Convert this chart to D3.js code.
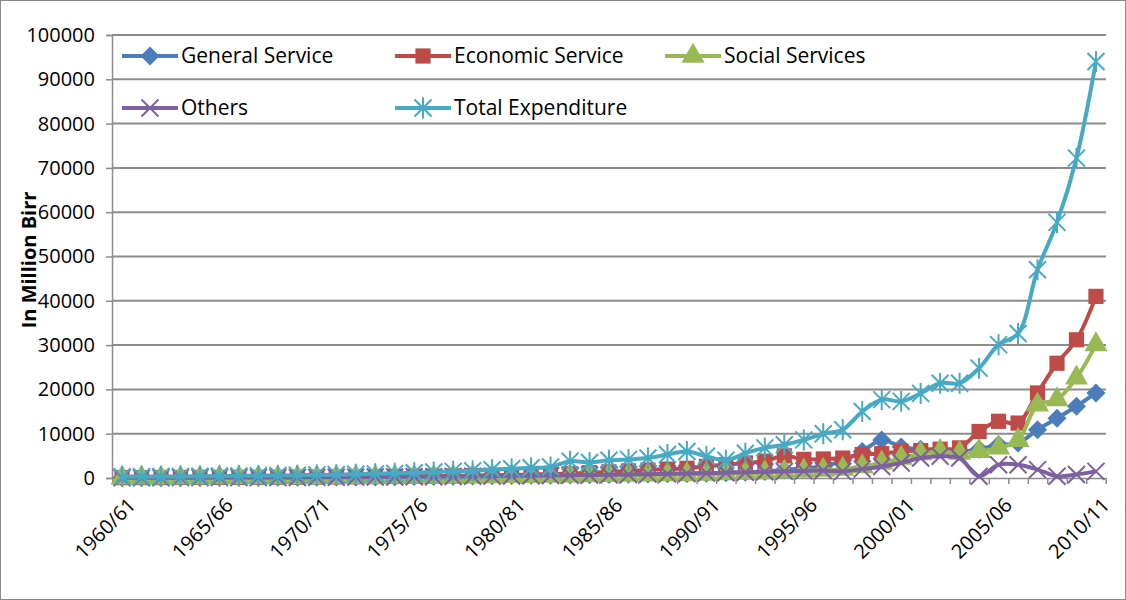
<!DOCTYPE html>
<html><head><meta charset="utf-8">
<script src="https://cdn.jsdelivr.net/npm/d3@7"></script>
<style>body{margin:0;background:#fff}text{font-family:"Open Sans","DejaVu Sans",sans-serif}</style>
</head><body><svg id="c" width="1126" height="600"></svg>
<script>
const years = d3.range(1960, 2011).map(y => y + "/" + String((y + 1) % 100).padStart(2, "0"));
const tickYears = years.filter((d, i) => i % 5 === 0);
const yTicks = d3.range(0, 100001, 10000);

const general = [100,110,120,130,140,150,160,170,180,190,200,210,230,250,280,320,360,400,450,500,550,600,650,700,750,800,850,900,950,1000,1100,1200,1300,1500,1800,2200,2600,4000,6000,8600,7000,6500,6500,6000,6500,7500,7900,10900,13500,16200,19200];
const economic = [80,90,100,110,120,130,140,150,170,190,210,230,260,300,340,380,420,480,540,600,700,800,900,1000,1200,1400,1600,1800,2000,2200,2600,3000,3400,3800,5000,4200,4300,4500,5300,5500,6000,6200,6500,6800,10500,12800,12400,19200,25900,31200,41000];
const social = [40,45,50,55,60,70,80,90,100,110,120,130,150,170,190,210,230,260,290,320,360,400,450,500,550,600,650,700,750,800,900,1000,1100,1200,1400,1600,1800,2000,2600,3400,4500,5500,6000,5600,6000,6800,8500,16500,17700,22600,30100];
const others = [60,65,70,75,80,90,100,110,120,130,150,170,190,210,240,270,300,340,380,420,470,520,570,620,680,740,800,870,940,1000,1100,1200,1300,1400,1500,1600,1700,1500,2000,2600,3400,4500,4900,4500,400,3000,3000,1900,400,800,1500];
const total = [300,320,340,360,400,440,480,520,580,640,700,760,840,940,1050,1200,1350,1500,1650,1850,2100,2300,2500,3800,3500,4000,4200,4500,5300,6000,4900,4000,5600,6800,7500,8600,10000,10900,15000,17700,17300,19100,21400,21400,24800,30100,32600,47000,57700,72200,94000];

const series = [
  {name: "General Service", values: general, color: "#4a7ebb", sym: d3.symbolDiamond2},
  {name: "Economic Service", values: economic, color: "#be4b48", sym: d3.symbolSquare},
  {name: "Social Services", values: social, color: "#98b954", sym: d3.symbolTriangle},
  {name: "Others", values: others, color: "#7d60a0", sym: "x"},
  {name: "Total Expenditure", values: total, color: "#46aac5", sym: "star"}
];

const svg = d3.select("#c");
svg.append("rect").attr("x", 0.5).attr("y", 0.5).attr("width", 1125).attr("height", 599)
  .attr("fill", "none").attr("stroke", "#888");

const x = d3.scalePoint().domain(years).range([112.3, 1105.7]).padding(0.5);
const y = d3.scaleLinear().domain([0, 100000]).range([478, 35]);

svg.append("g").selectAll("line").data(yTicks.slice(1)).join("line")
  .attr("x1", 112).attr("x2", 1106).attr("y1", d => y(d)).attr("y2", d => y(d))
  .attr("stroke", "#8c8c8c").attr("stroke-width", 2);

const yAxis = svg.append("g").attr("transform", "translate(112,0)")
  .call(d3.axisLeft(y).tickValues(yTicks).tickFormat(d3.format("d")).tickSize(6));
yAxis.selectAll("text").attr("font-size", 20).attr("fill", "#000").attr("x", -17);
yAxis.selectAll("line,path").attr("stroke", "#8c8c8c").attr("stroke-width", 1.5);

const xAxis = svg.append("g").attr("transform", "translate(0,478)")
  .call(d3.axisBottom(x).tickValues(years).tickFormat(d => tickYears.includes(d) ? d : "").tickSize(6));
xAxis.selectAll(".tick line").attr("transform", "translate(-9.74,0)");
xAxis.selectAll("path,line").attr("stroke", "#8c8c8c").attr("stroke-width", 1.5);
xAxis.selectAll("text").attr("font-size", 20).attr("fill", "#000")
  .attr("text-anchor", "end").attr("dx", 0).attr("dy", 0)
  .attr("transform", "translate(8,22) rotate(-45)");

svg.append("text").attr("transform", "translate(36,260) rotate(-90)")
  .attr("text-anchor", "middle").attr("font-size", 20).attr("font-weight", "bold").text("In Million Birr");

function marker(g, s, size) {
  if (s.sym === "x") {
    g.append("path").attr("d", `M${-size},${-size}L${size},${size}M${-size},${size}L${size},${-size}`)
      .attr("stroke", s.color).attr("stroke-width", 2).attr("fill", "none");
  } else if (s.sym === "star") {
    g.append("path").attr("d", `M${-size},${-size}L${size},${size}M${-size},${size}L${size},${-size}M0,${-size - 2}L0,${size + 2}`)
      .attr("stroke", s.color).attr("stroke-width", 2).attr("fill", "none");
  } else {
    g.append("path").attr("d", d3.symbol().type(s.sym).size(size * size * 3.2)())
      .attr("fill", s.color);
  }
}

const line = d3.line().x((d, i) => x(years[i])).y(d => y(d)).curve(d3.curveCatmullRom);
series.forEach(s => {
  const g = svg.append("g");
  g.append("path").attr("d", line(s.values)).attr("fill", "none")
    .attr("stroke", s.color).attr("stroke-width", 4);
  s.values.forEach((v, i) => {
    marker(g.append("g").attr("transform", `translate(${x(years[i])},${y(v)})`), s, 8.5);
  });
});

const legendPos = [[122, 56], [395, 56], [665, 56], [122, 108], [395, 108]];
series.forEach((s, i) => {
  const [lx, ly] = legendPos[i];
  const g = svg.append("g").attr("transform", `translate(${lx},${ly})`);
  g.append("line").attr("x1", 0).attr("x2", 56).attr("stroke", s.color).attr("stroke-width", 4);
  marker(g.append("g").attr("transform", "translate(28,0)"), s, 8.5);
  g.append("text").attr("x", 59).attr("y", 7).attr("font-size", 21).text(s.name);
});
</script></body></html>
